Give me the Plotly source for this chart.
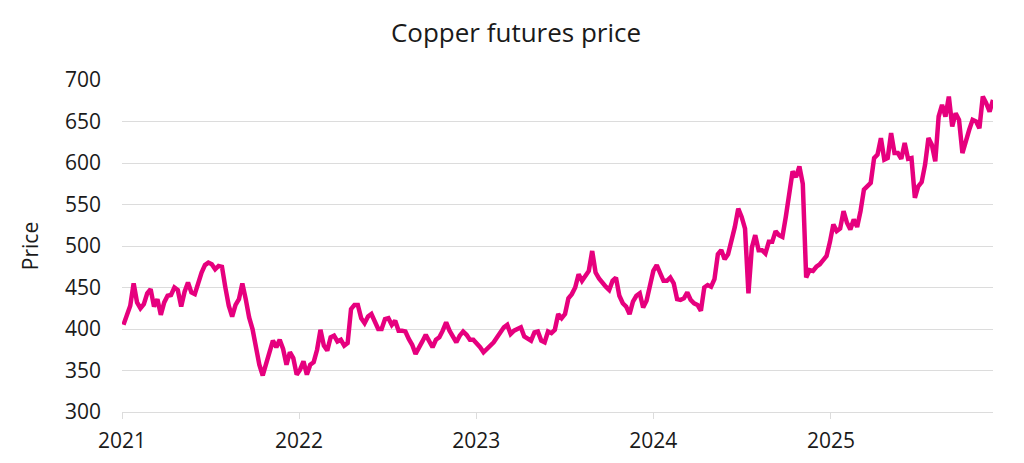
import pandas as pd
import plotly.graph_objects as go

# weekly closes, one list per year
p2021 = [405, 417, 428, 455, 432, 425, 430, 443, 448, 427, 436, 417, 432, 440, 441, 450, 447, 427,
         445, 456, 444, 442, 456, 468, 477, 480, 478, 472, 476, 475, 450, 428, 415, 429, 436, 455,
         436, 414, 400, 377, 357, 344, 358, 372, 386, 378, 387, 376, 357, 372, 365, 345]
p2022 = [351, 361, 345, 357, 360, 375, 399, 380, 374, 390, 392, 385, 387, 380, 383, 424, 429, 429,
         413, 407, 415, 418, 408, 400, 400, 412, 413, 405, 410, 398, 398, 397, 388, 381, 370, 379,
         385, 393, 384, 378, 387, 390, 398, 408, 398, 390, 384, 392, 397, 393, 387, 387]
p2023 = [383, 378, 372, 376, 380, 384, 390, 396, 402, 405, 394, 398, 400, 402, 391, 388, 386, 396,
         397, 386, 384, 397, 395, 399, 418, 413, 418, 437, 442, 450, 466, 458, 464, 470, 494, 468,
         461, 455, 451, 447, 458, 462, 440, 431, 427, 418, 433, 440, 443, 426, 434, 452]
p2024 = [470, 477, 466, 458, 458, 462, 455, 436, 435, 437, 444, 435, 431, 429, 422, 450, 453, 451,
         460, 490, 495, 484, 490, 506, 523, 545, 535, 521, 443, 498, 513, 495, 495, 491, 505, 505,
         518, 513, 511, 535, 560, 590, 583, 596, 575, 462, 471, 470, 475, 478, 483, 488]
p2025 = [505, 526, 518, 521, 542, 528, 520, 532, 523, 542, 568, 572, 576, 606, 610, 630, 604, 606,
         636, 612, 612, 605, 624, 605, 606, 558, 572, 577, 598, 630, 622, 602, 656, 670, 656, 680,
         644, 660, 652, 612, 628, 640, 652, 650, 642, 680, 672, 662, 676]

prices = p2021 + p2022 + p2023 + p2024 + p2025
dates = pd.date_range("2021-01-04", periods=len(prices), freq="7D")

font = "Open Sans, sans-serif"
ink = "#1a1a1a"
grid = "#dcdcdc"

fig = go.Figure()
fig.add_trace(go.Scatter(x=dates, y=prices, mode="lines",
                         line=dict(color="#e6007e", width=4.5), showlegend=False))

# page body adds an 8px offset, so the figure is 8px smaller and margins shifted
fig.update_layout(
    width=1016, height=455,
    margin=dict(l=114, r=31, t=72, b=51),
    paper_bgcolor="white", plot_bgcolor="white",
    font=dict(family=font, size=21, color=ink),
    title=dict(text="Copper futures price", x=0.5, xanchor="center",
               y=0.945, yref="container", yanchor="middle",
               font=dict(family=font, size=26, color=ink)),
)
fig.update_xaxes(
    range=["2021-01-01", dates[-1]], tickformat="%Y", dtick="M12", tick0="2021-01-01",
    showgrid=False, showline=True, linecolor=grid, linewidth=1, automargin=False,
    ticks="outside", ticklen=6, tickcolor=grid, ticklabelstandoff=4,
)
fig.update_yaxes(
    range=[300, 700], dtick=50, showgrid=True, gridcolor=grid, gridwidth=1,
    zeroline=False, ticks="", ticklabelstandoff=20, automargin=False,
    title=dict(text="Price", standoff=20, font=dict(family=font, size=21, color=ink)),
)

fig.write_html("out.html")
